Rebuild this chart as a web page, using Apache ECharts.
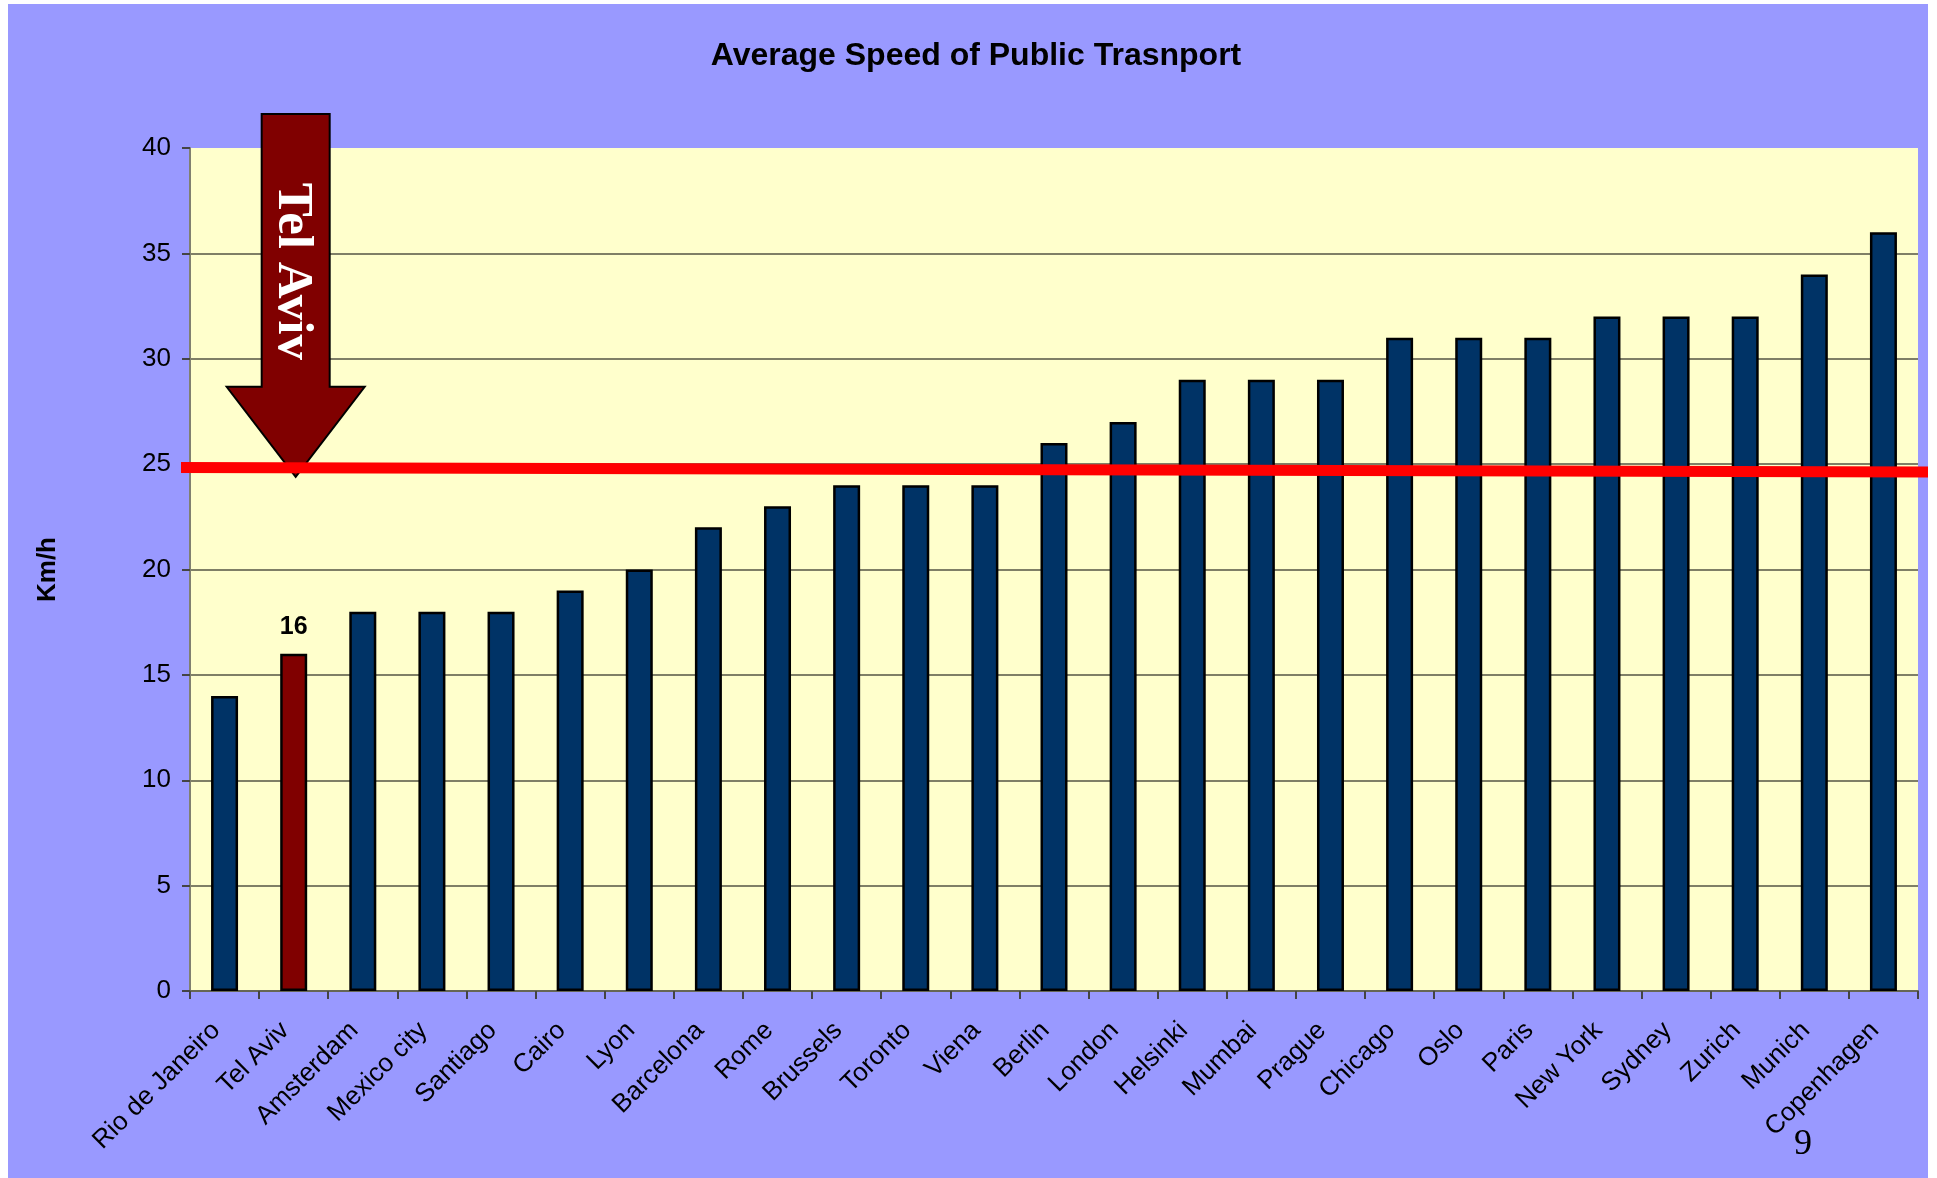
<!DOCTYPE html>
<html>
<head>
<meta charset="utf-8">
<title>Average Speed of Public Trasnport</title>
<script src="https://cdn.jsdelivr.net/npm/echarts@6/dist/echarts.min.js"></script>
<style>
html,body{margin:0;padding:0;background:#fff;overflow:hidden;}
#slide{position:absolute;left:8px;top:4px;width:1920px;height:1174px;background:#9999ff;}
#main{position:absolute;left:0;top:0;width:1937px;height:1178px;}
</style>
</head>
<body>
<div id="slide"></div>
<div id="main"></div>
<script>
// 数据
var cities = ['Rio de Janeiro', 'Tel Aviv', 'Amsterdam', 'Mexico city', 'Santiago', 'Cairo', 'Lyon',
    'Barcelona', 'Rome', 'Brussels', 'Toronto', 'Viena', 'Berlin', 'London', 'Helsinki', 'Mumbai',
    'Prague', 'Chicago', 'Oslo', 'Paris', 'New York', 'Sydney', 'Zurich', 'Munich', 'Copenhagen'];
var speeds = [14, 16, 18, 18, 18, 19, 20, 22, 23, 24, 24, 24, 26, 27, 29, 29, 29, 31, 31, 31, 32, 32, 32, 34, 36];
var yMin = 0, yMax = 40, yStep = 5;
var highlightCity = 'Tel Aviv';
var averageLine = [24.84, 24.63];   // 红线 左端/右端 (手画的，略斜)
var arrowTipValue = 24.4;
var slideNumber = '9';

var sans = 'Liberation Sans, Arial, sans-serif';
var serif = 'Liberation Serif, Times New Roman, serif';

var chart = echarts.init(document.getElementById('main'), null, {renderer: 'canvas'});

// 顶部那条 40 的网格线看不到
var gridColors = [];
for (var v = yMin; v <= yMax; v += yStep) {
    gridColors.push(v === yMax ? 'rgba(0,0,0,0)' : '#555544');
}

var barData = speeds.map(function (s, i) {
    if (cities[i] === highlightCity) {
        return {
            value: s,
            itemStyle: {color: '#800000'},
            label: {show: true}
        };
    }
    return s;
});

chart.setOption({
    backgroundColor: 'transparent',
    animation: false,
    title: {
        text: 'Average Speed of Public Trasnport',
        left: 971,
        top: 35,
        textAlign: 'center',
        textStyle: {fontFamily: sans, fontSize: 32, fontWeight: 'bold', color: '#000'}
    },
    grid: {
        left: 190, right: 19, top: 148, bottom: 187,
        show: true,
        backgroundColor: '#ffffcc',
        borderWidth: 0
    },
    xAxis: {
        type: 'category',
        data: cities,
        boundaryGap: true,
        axisLine: {lineStyle: {color: '#666655', width: 2}},
        axisTick: {show: true, length: 8, alignWithLabel: false, lineStyle: {color: '#444', width: 2}},
        axisLabel: {
            interval: 0,
            rotate: 45,
            margin: 27,
            padding: [0, 12, 20, 0],   // 往左挪一点
            fontFamily: sans,
            fontSize: 26,
            color: '#000'
        }
    },
    yAxis: {
        type: 'value',
        min: yMin,
        max: yMax,
        interval: yStep,
        name: 'Km/h',
        nameLocation: 'middle',
        nameGap: 129,
        nameRotate: 90,
        nameTextStyle: {fontFamily: sans, fontSize: 26, fontWeight: 'bold', color: '#000'},
        axisLine: {show: true, lineStyle: {color: '#808070', width: 2}},
        axisTick: {show: true, length: 8, lineStyle: {color: '#444', width: 2}},
        axisLabel: {margin: 19, fontFamily: sans, fontSize: 26, color: '#000'},
        splitLine: {show: true, lineStyle: {color: gridColors, width: 1.5}}
    },
    series: [{
        type: 'bar',
        data: barData,
        barWidth: 27,
        itemStyle: {color: '#003366', borderColor: '#000', borderWidth: 2.5},
        label: {
            show: false,
            position: 'top',
            distance: 14,
            fontFamily: sans,
            fontSize: 25,
            fontWeight: 'bold',
            color: '#000'
        },
        z: 2
    }]
});

// 箭头、红线、页码
function drawNotes() {
    var rect = chart.getModel().getComponent('grid').coordinateSystem.getRect();
    var hi = cities.indexOf(highlightCity);
    var tip = chart.convertToPixel({seriesIndex: 0}, [hi, arrowTipValue]);
    var tx = tip[0] + 2, ty = tip[1];
    var arrowPts = [
        [tx - 34, 114], [tx + 34, 114], [tx + 34, ty - 90], [tx + 69, ty - 90],
        [tx, ty], [tx - 69, ty - 90], [tx - 34, ty - 90]
    ];
    var yL = chart.convertToPixel({yAxisIndex: 0}, averageLine[0]);
    var yR = chart.convertToPixel({yAxisIndex: 0}, averageLine[1]);

    chart.setOption({
        graphic: [
            {
                type: 'polygon',
                z: 100,
                shape: {points: arrowPts},
                style: {fill: '#800000', stroke: '#000', lineWidth: 2}
            },
            {
                type: 'text',
                z: 101,
                x: tx - 4,
                y: (114 + ty - 90) / 2 + 21,
                rotation: -Math.PI / 2,
                style: {
                    text: highlightCity,
                    fill: '#fff',
                    font: 'bold 51px ' + serif,
                    align: 'center',
                    verticalAlign: 'middle'
                }
            },
            {
                type: 'line',
                z: 102,
                shape: {x1: rect.x - 9, y1: yL, x2: 1928, y2: yR},
                style: {stroke: '#ff0000', lineWidth: 11}
            },
            {
                type: 'text',
                z: 102,
                x: 1803,
                y: 1145,
                style: {
                    text: slideNumber,
                    fill: '#000',
                    font: '36px ' + serif,
                    align: 'center',
                    verticalAlign: 'middle'
                }
            }
        ]
    });
}
drawNotes();
</script>
</body>
</html>
